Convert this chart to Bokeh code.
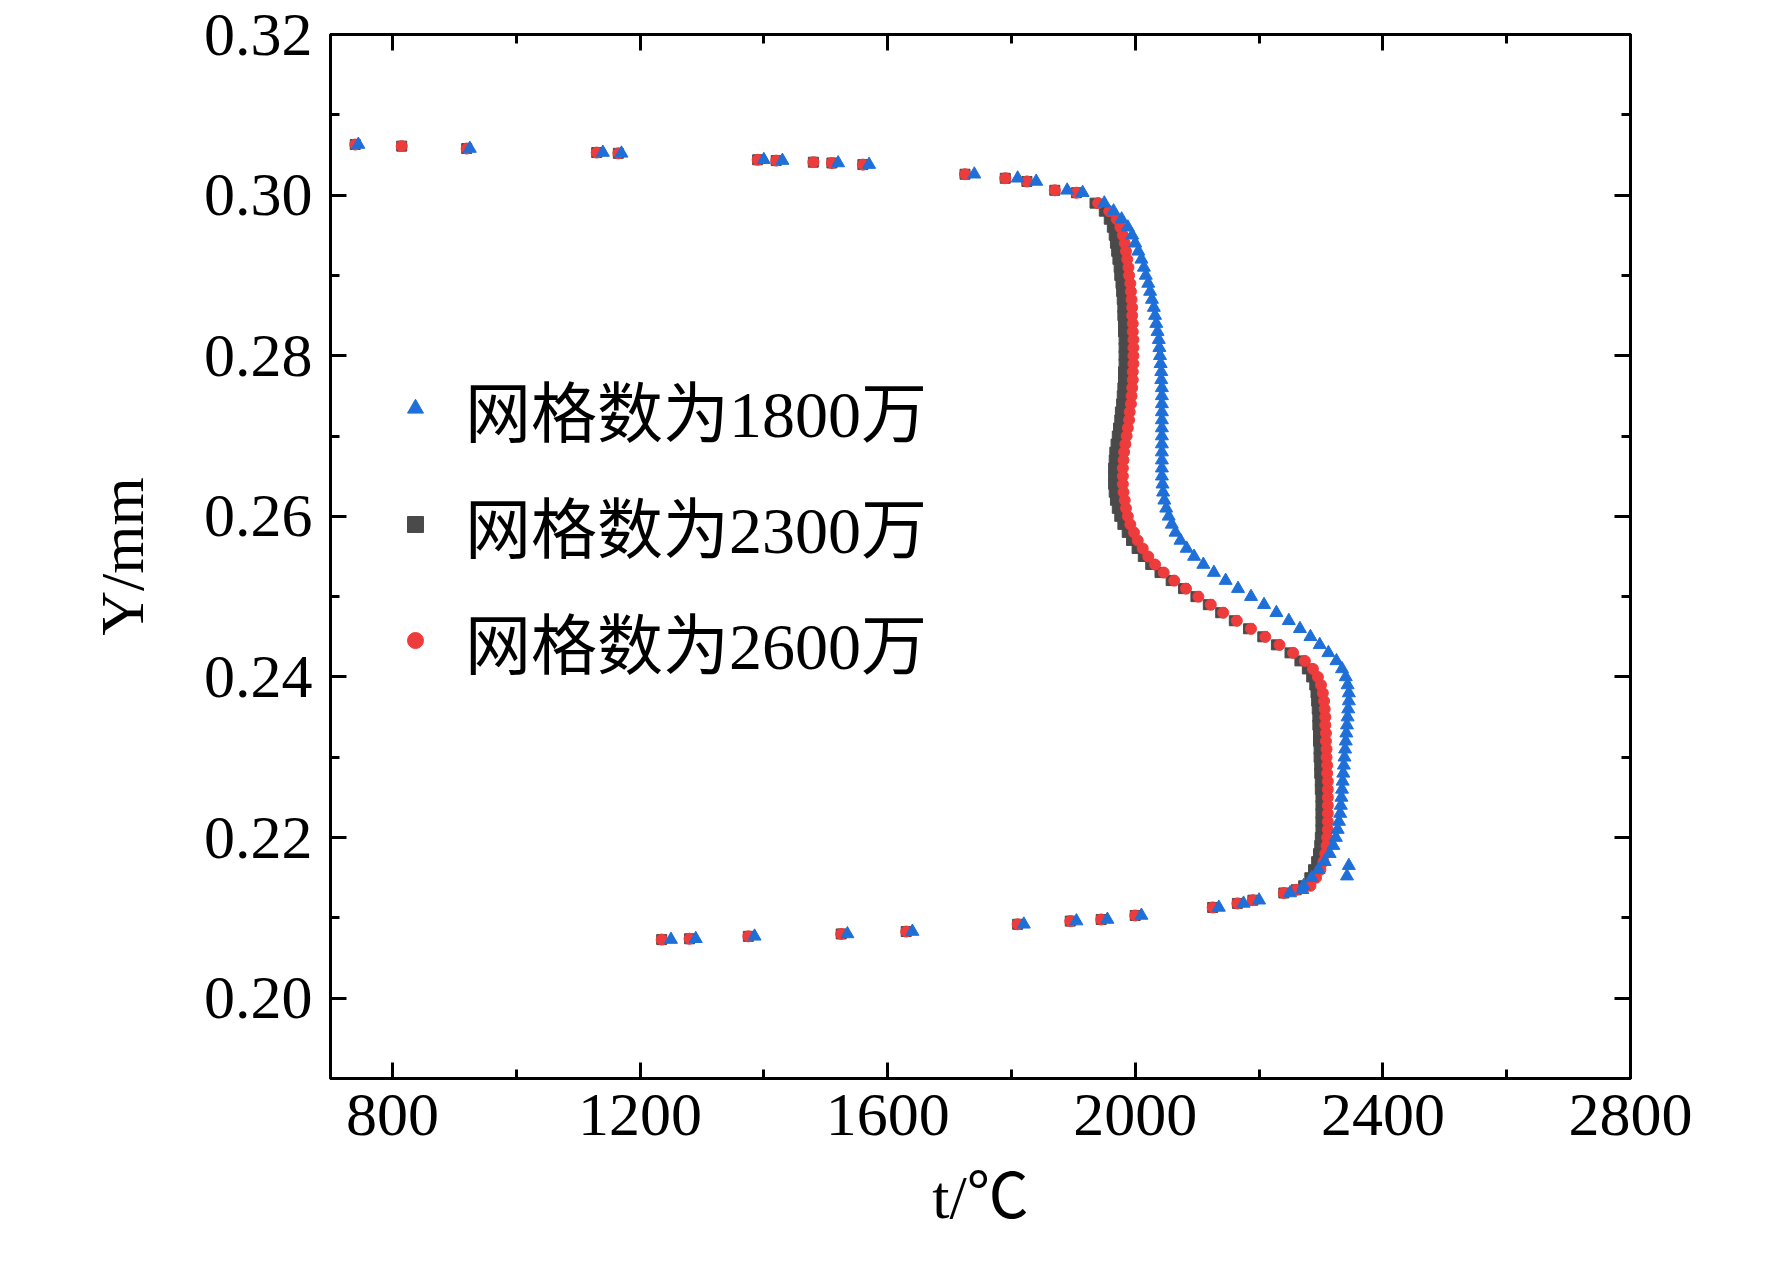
import numpy as np
from bokeh.plotting import figure
from bokeh.models import LinearAxis, FixedTicker, Legend, LegendItem, CustomJSTickFormatter
from bokeh.embed import file_html
from bokeh.resources import INLINE

core_y = [round(0.299 - 0.001 * i, 3) for i in range(86)]
t_2300 = [1935,1950,1958,1963,1966,1968,1970,1972,1974,1975,
          1977,1978,1979,1980,1980,1981,1981,1982,1982,1982,
          1982,1981,1981,1980,1979,1978,1976,1975,1973,1971,
          1969,1967,1966,1965,1965,1965,1966,1968,1971,1975,
          1980,1987,1994,2003,2013,2025,2040,2058,2078,2098,
          2118,2138,2160,2183,2206,2228,2250,2266,2278,2285,
          2290,2292,2293,2294,2295,2295,2296,2296,2297,2297,
          2298,2298,2299,2299,2300,2300,2300,2300,2300,2299,
          2298,2296,2293,2288,2282,2272]
t_2600 = [1940,1958,1970,1976,1980,1983,1985,1987,1989,1990,
          1992,1993,1994,1995,1995,1996,1996,1997,1997,1997,
          1997,1996,1996,1995,1994,1993,1991,1990,1988,1986,
          1984,1982,1981,1980,1980,1980,1981,1983,1985,1988,
          1992,1998,2004,2012,2021,2032,2046,2063,2082,2102,
          2122,2142,2164,2187,2210,2233,2255,2274,2287,2295,
          2300,2303,2305,2306,2307,2307,2308,2308,2309,2309,
          2310,2310,2311,2311,2311,2311,2311,2311,2311,2310,
          2309,2307,2304,2299,2292,2283]
t_1800 = [1950,1965,1978,1988,1995,2000,2005,2010,2014,2017,
          2021,2024,2027,2030,2032,2034,2036,2038,2039,2040,
          2041,2042,2042,2043,2043,2043,2043,2043,2043,2043,
          2043,2043,2043,2043,2043,2044,2045,2047,2050,2054,
          2059,2065,2073,2083,2095,2110,2127,2146,2166,2187,
          2208,2228,2248,2266,2283,2298,2312,2325,2334,2340,
          2343,2345,2345,2344,2343,2342,2341,2340,2339,2338,
          2337,2336,2335,2334,2333,2332,2331,2329,2327,2324,
          2320,2314,2306,2296,2285,2272]

top_t = [740,815,920,1130,1165,1390,1420,1480,1510,1560,1725,1790,1825,1870,1905]
top_y = [0.3063,0.3061,0.3058,0.3053,0.3052,0.3044,0.3043,0.3041,0.3040,0.3038,0.3026,0.3021,0.3017,0.3006,0.3003]
top_t_1800 = [745,925,1140,1170,1400,1430,1520,1570,1740,1810,1840,1890,1915]
top_y_1800 = [0.3063,0.3058,0.3053,0.3052,0.3044,0.3043,0.3040,0.3038,0.3026,0.3021,0.3017,0.3006,0.3003]
bot_t = [1235,1280,1375,1525,1630,1810,1895,1945,2000,2125,2165,2190,2240,2260]
bot_y = [0.2073,0.2074,0.2077,0.2080,0.2083,0.2092,0.2096,0.2098,0.2103,0.2113,0.2118,0.2122,0.2131,0.2135]
bot_t_1800 = [1250,1290,1385,1535,1640,1820,1905,1955,2010,2135,2175,2200,2250,2270]
extra_t_1800 = [2345, 2342]
extra_y_1800 = [0.2165, 0.2152]

FONT = "'Liberation Serif', 'Times New Roman', 'Noto Sans CJK SC'"

p = figure(width=1756, height=1261, output_backend="svg", toolbar_location=None,
           x_range=(700, 2800), y_range=(0.19, 0.32),
           min_border_left=330, min_border_right=110, min_border_top=34, min_border_bottom=172,
           frame_width=1300, frame_height=1044)
p.grid.visible = False
p.outline_line_color = "black"
p.outline_line_width = 3
p.background_fill_color = "white"

gx = top_t + t_2300 + bot_t
gy = top_y + core_y + bot_y
rx = top_t + t_2600 + bot_t
ry = top_y + core_y + bot_y
bx = top_t_1800 + t_1800 + extra_t_1800 + bot_t_1800
by = top_y_1800 + core_y + extra_y_1800 + bot_y

rg = p.scatter(gx, gy, marker="square", size=10, color="#4a4a4a")
rr = p.scatter(rx, ry, marker="circle", size=11, color="#ee3b3b")
rb = p.scatter(bx, by, marker="triangle", size=13, color="#1f6fd8")

legend = Legend(items=[LegendItem(label="网格数为1800万", renderers=[rb]),
                       LegendItem(label="网格数为2300万", renderers=[rg]),
                       LegendItem(label="网格数为2600万", renderers=[rr])],
                location=(65, 390), border_line_color=None, background_fill_alpha=0,
                label_text_font=FONT, label_text_font_size="66px", label_text_color="black",
                glyph_width=40, glyph_height=40, spacing=20, label_standoff=30)
p.add_layout(legend, "center")

xt = FixedTicker(ticks=[800,1200,1600,2000,2400,2800], minor_ticks=list(range(800,2801,200)))
yt = FixedTicker(ticks=[0.20,0.22,0.24,0.26,0.28,0.30,0.32], minor_ticks=[0.19+0.01*i for i in range(14)])

def style(ax):
    ax.axis_line_width = 3
    ax.major_tick_in = 16
    ax.major_tick_out = 0
    ax.minor_tick_in = 9
    ax.minor_tick_out = 0
    ax.major_tick_line_width = 3
    ax.minor_tick_line_width = 3
    ax.major_label_text_font = FONT
    ax.major_label_text_font_size = "62px"
    ax.major_label_text_color = "black"
    ax.axis_label_text_font = FONT
    ax.axis_label_text_font_size = "62px"
    ax.axis_label_text_font_style = "normal"
    ax.axis_label_text_color = "black"

p.xaxis.ticker = xt
p.yaxis.ticker = yt
p.yaxis.formatter = CustomJSTickFormatter(code="return tick.toFixed(2);")
p.xaxis.axis_label = "t/℃"
p.yaxis.axis_label = "Y/mm"
style(p.xaxis[0]); style(p.yaxis[0])
p.xaxis.major_label_standoff = 16
p.yaxis.major_label_standoff = 18
p.xaxis.axis_label_standoff = 25
p.yaxis.axis_label_standoff = 45

top = LinearAxis(ticker=xt, formatter=CustomJSTickFormatter(code="return '';")); style(top)
right = LinearAxis(ticker=yt, formatter=CustomJSTickFormatter(code="return '';")); style(right)
top.major_label_standoff = 0
right.major_label_standoff = 0
p.add_layout(top, "above")
p.add_layout(right, "right")

open("out.html", "w").write(file_html(p, INLINE))
